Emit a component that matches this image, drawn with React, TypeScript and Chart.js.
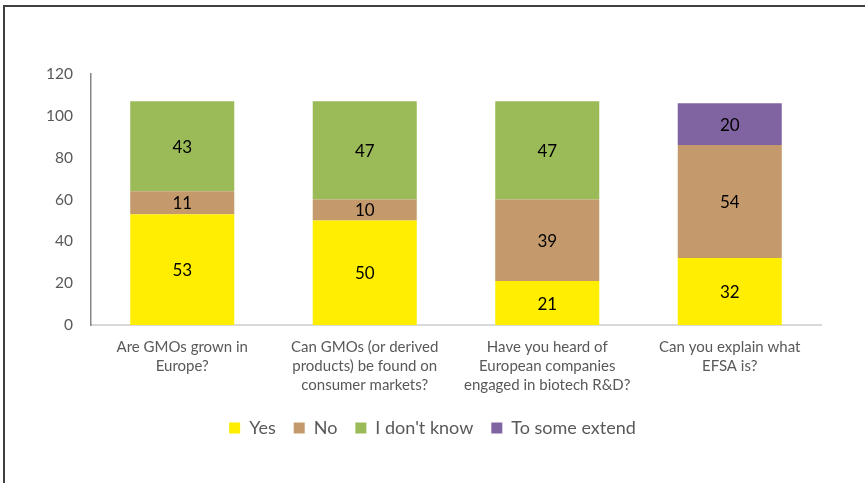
import React, { useEffect, useRef } from "react";
import { Chart, registerables } from "chart.js";

Chart.register(...registerables);

const categories: string[][] = [
  ["Are GMOs grown in", "Europe?"],
  ["Can GMOs (or derived", "products) be found on", "consumer markets?"],
  ["Have you heard of", "European companies", "engaged in biotech R&D?"],
  ["Can you explain what", "EFSA is?"],
];
const yesValues = [53, 50, 21, 32];
const noValues = [11, 10, 39, 54];
const dontKnowValues = [43, 47, 47, 0];
const someExtendValues = [0, 0, 0, 20];
const seriesNames = ["Yes", "No", "I don't know", "To some extend"];

const FONT = "Lato, 'Open Sans', sans-serif";

const dataLabelPlugin = {
  id: "segLabels",
  afterDatasetsDraw(chart: any) {
    const ctx = chart.ctx;
    ctx.save();
    ctx.font = `17px ${FONT}`;
    ctx.fillStyle = "#000000";
    ctx.textAlign = "center";
    ctx.textBaseline = "middle";
    chart.data.datasets.forEach((ds: any, di: number) => {
      const meta = chart.getDatasetMeta(di);
      meta.data.forEach((el: any, i: number) => {
        const v = ds.data[i];
        if (!v) return;
        ctx.fillText(String(v), el.x, (el.y + el.base) / 2 + 1);
      });
    });
    ctx.restore();
  },
};

export default function App() {
  const ref = useRef<HTMLCanvasElement>(null);
  useEffect(() => {
    if (!ref.current) return;
    const chart = new Chart(ref.current, {
      type: "bar",
      data: {
        labels: categories,
        datasets: [
          { label: seriesNames[0], data: yesValues, backgroundColor: "#FFEE00" },
          { label: seriesNames[1], data: noValues, backgroundColor: "#C49A6C" },
          { label: seriesNames[2], data: dontKnowValues, backgroundColor: "#9BBB59" },
          { label: seriesNames[3], data: someExtendValues, backgroundColor: "#8064A2" },
        ],
      },
      options: {
        responsive: false,
        animation: false,
        layout: { padding: { left: 0, right: 0, top: 74, bottom: 36 } },
        datasets: { bar: { categoryPercentage: 0.57, barPercentage: 1 } },
        scales: {
          x: {
            stacked: true,
            grid: { display: false, drawTicks: false },
            border: { display: true, color: "#D9D9D9", width: 2 },
            ticks: {
              color: "#595959",
              font: { family: FONT, size: 15, lineHeight: 1.27 },
              padding: 13,
              maxRotation: 0,
              autoSkip: false,
            },
            afterFit: (s: any) => {
              s.height = 76;
            },
          },
          y: {
            stacked: true,
            min: 0,
            max: 120,
            grid: { display: false, drawTicks: false },
            border: { display: true, color: "#868686", width: 1.5 },
            ticks: {
              stepSize: 20,
              color: "#595959",
              font: { family: FONT, size: 15.5 },
              padding: 18,
            },
            afterFit: (s: any) => {
              s.width = 91;
            },
          },
          yRight: {
            type: "linear",
            position: "right",
            display: true,
            grid: { display: false, drawTicks: false },
            border: { display: false },
            ticks: { display: false },
            afterFit: (s: any) => {
              s.width = 44;
            },
          },
        },
        plugins: {
          legend: {
            position: "bottom",
            labels: {
              boxWidth: 11,
              boxHeight: 11,
              padding: 18,
              color: "#595959",
              font: { family: FONT, size: 18 },
            },
          },
          tooltip: { enabled: false },
        },
      },
      plugins: [dataLabelPlugin],
    });
    return () => chart.destroy();
  }, []);

  return (
    <div style={{ position: "fixed", left: 0, top: 0, width: 865, height: 483, background: "#fff", overflow: "hidden" }}>
      <canvas ref={ref} width={865} height={483} style={{ position: "absolute", left: 0, top: 0 }} />
      <div
        style={{
          position: "absolute",
          left: 3,
          top: 5,
          width: 900,
          height: 520,
          borderLeft: "2px solid #404040",
          borderTop: "2px solid #404040",
          pointerEvents: "none",
        }}
      />
    </div>
  );
}
